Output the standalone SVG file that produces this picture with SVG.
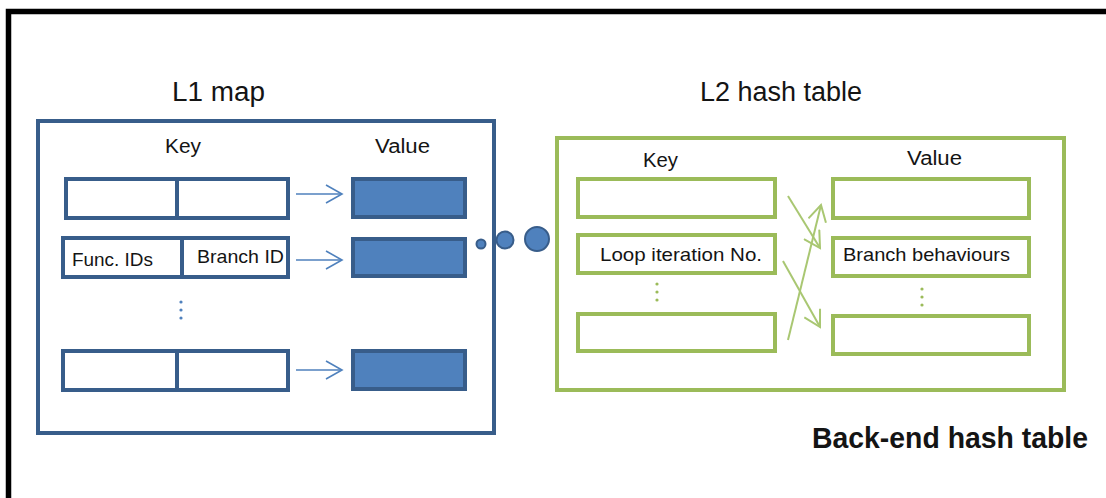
<svg xmlns="http://www.w3.org/2000/svg" width="1106" height="498" viewBox="0 0 1106 498">
  <defs>
    <style>
      .lbl { font-family: "Liberation Sans", Arial, sans-serif; fill: #141414; }
      .title { font-size: 27px; }
      .head { font-size: 19.5px; }
      .cell { font-size: 18.5px; }
      .bold { font-size: 29px; font-weight: bold; }
      .blueBox { fill: #ffffff; stroke: #385d8a; stroke-width: 4; }
      .blueVal { fill: #4f81bd; stroke: #385d8a; stroke-width: 4; }
      .greenBox { fill: #ffffff; stroke: #9bbb59; stroke-width: 4; }
      .divider { stroke: #385d8a; stroke-width: 4; }
      .blueArrow { stroke: #4f81bd; stroke-width: 1.6; fill: none; marker-end: url(#headBlue); }
      .greenArrow { stroke: #a9c772; stroke-width: 2; fill: none; marker-end: url(#headGreen); }
      .blueDot { fill: #4f81bd; }
      .greenDot { fill: #9bbb59; }
      .bubble { fill: #4f81bd; stroke: #385d8a; stroke-width: 2; }
    </style>
    <marker id="headBlue" markerUnits="userSpaceOnUse" viewBox="0 0 20 20" refX="17" refY="10" markerWidth="20" markerHeight="20" orient="auto">
      <path d="M1,1 L17,10 L1,19" fill="none" stroke="#4f81bd" stroke-width="1.6"/>
    </marker>
    <marker id="headGreen" markerUnits="userSpaceOnUse" viewBox="0 0 20 20" refX="17" refY="10" markerWidth="20" markerHeight="20" orient="auto">
      <path d="M1,1 L17,10 L1,19" fill="none" stroke="#a9c772" stroke-width="2"/>
    </marker>
    <filter id="soft" x="-200%" y="-50%" width="500%" height="200%">
      <feGaussianBlur stdDeviation="1.5"/>
    </filter>
  </defs>

  <rect x="0" y="0" width="1106" height="498" fill="#ffffff"/>

  <!-- outer frame, open to the right and bottom -->
  <path d="M8.5,500 L8.5,11.5 L1110,11.5" fill="none" stroke="#000000" stroke-width="5.5"/>

  <!-- titles -->
  <text class="lbl title" x="172" y="101" textLength="93" lengthAdjust="spacingAndGlyphs">L1 map</text>
  <text class="lbl title" x="700" y="101" textLength="162" lengthAdjust="spacingAndGlyphs">L2 hash table</text>

  <!-- L1 map -->
  <g id="l1-map">
    <rect x="38" y="121" width="456" height="312" fill="#ffffff" stroke="#385d8a" stroke-width="4"/>
    <text class="lbl head" x="165" y="153" textLength="36" lengthAdjust="spacingAndGlyphs">Key</text>
    <text class="lbl head" x="375" y="153" textLength="55" lengthAdjust="spacingAndGlyphs">Value</text>
  </g>

  <g id="l1-key-1">
    <rect class="blueBox" x="66" y="179" width="222" height="39"/>
    <line x1="176" y1="235" x2="176" y2="218" stroke="#8899aa" stroke-width="3" filter="url(#soft)" opacity="0.6"/>
    <line class="divider" x1="177" y1="179" x2="177" y2="220"/>
  </g>
  <g id="l1-key-2">
    <rect class="blueBox" x="63" y="238" width="225" height="39"/>
    <line x1="182" y1="294" x2="182" y2="277" stroke="#8899aa" stroke-width="3" filter="url(#soft)" opacity="0.6"/>
    <line class="divider" x1="182" y1="238" x2="182" y2="279"/>
    <text class="lbl cell" x="72" y="266" textLength="81" lengthAdjust="spacingAndGlyphs">Func. IDs</text>
    <text class="lbl cell" x="197" y="263" textLength="87" lengthAdjust="spacingAndGlyphs">Branch ID</text>
  </g>
  <g id="l1-ellipsis">
    <circle class="blueDot" cx="181" cy="302" r="1.6"/>
    <circle class="blueDot" cx="181" cy="310" r="1.6"/>
    <circle class="blueDot" cx="181" cy="318" r="1.6"/>
  </g>
  <g id="l1-key-3">
    <rect class="blueBox" x="63" y="351" width="225" height="39"/>
    <line x1="177" y1="406" x2="177" y2="390" stroke="#8899aa" stroke-width="3" filter="url(#soft)" opacity="0.6"/>
    <line class="divider" x1="177" y1="351" x2="177" y2="392"/>
  </g>

  <g id="l1-value-1"><rect class="blueVal" x="353" y="179" width="112" height="38"/></g>
  <g id="l1-value-2"><rect class="blueVal" x="353" y="239" width="112" height="37"/></g>
  <g id="l1-value-3"><rect class="blueVal" x="353" y="351" width="112" height="38"/></g>

  <!-- link bubbles between the two tables -->
  <g id="link-bubbles">
    <circle class="bubble" cx="481" cy="244" r="4.5"/>
    <circle class="bubble" cx="505" cy="240" r="8.5"/>
    <circle class="bubble" cx="537" cy="239" r="12"/>
  </g>

  <!-- L2 hash table -->
  <g id="l2-table">
    <rect x="557" y="138" width="507" height="252" fill="none" stroke="#9bbb59" stroke-width="4"/>
    <text class="lbl head" x="643" y="167" textLength="35" lengthAdjust="spacingAndGlyphs">Key</text>
    <text class="lbl head" x="907" y="165" textLength="55" lengthAdjust="spacingAndGlyphs">Value</text>
  </g>

  <g id="l2-key-1"><rect class="greenBox" x="578" y="179" width="197" height="38"/></g>
  <g id="l2-key-2">
    <rect class="greenBox" x="578" y="235" width="197" height="38"/>
    <text class="lbl cell" x="600" y="261" textLength="162" lengthAdjust="spacingAndGlyphs">Loop iteration No.</text>
  </g>
  <g id="l2-key-ellipsis">
    <circle class="greenDot" cx="657" cy="284" r="1.6"/>
    <circle class="greenDot" cx="657" cy="292" r="1.6"/>
    <circle class="greenDot" cx="657" cy="300" r="1.6"/>
  </g>
  <g id="l2-key-3"><rect class="greenBox" x="578" y="314" width="197" height="37"/></g>

  <g id="l2-value-1"><rect class="greenBox" x="833" y="179" width="196" height="39"/></g>
  <g id="l2-value-2">
    <rect class="greenBox" x="833" y="238" width="196" height="38"/>
    <text class="lbl cell" x="843" y="261" textLength="167" lengthAdjust="spacingAndGlyphs">Branch behaviours</text>
  </g>
  <g id="l2-value-ellipsis">
    <circle class="greenDot" cx="922" cy="289" r="1.6"/>
    <circle class="greenDot" cx="922" cy="297" r="1.6"/>
    <circle class="greenDot" cx="922" cy="305" r="1.6"/>
  </g>
  <g id="l2-value-3"><rect class="greenBox" x="833" y="316" width="196" height="38"/></g>

  <!-- connectors -->
  <g id="connectors">
    <line class="blueArrow" x1="296" y1="194" x2="342" y2="194"/>
    <line class="blueArrow" x1="296" y1="260" x2="342" y2="260"/>
    <line class="blueArrow" x1="296" y1="370" x2="342" y2="370"/>
    <line class="greenArrow" x1="788" y1="196" x2="820" y2="248"/>
    <line class="greenArrow" x1="783" y1="261" x2="820" y2="327"/>
    <line class="greenArrow" x1="788" y1="340" x2="821" y2="205"/>
  </g>

  <text class="lbl bold" x="812" y="448" textLength="276" lengthAdjust="spacingAndGlyphs">Back-end hash table</text>
</svg>
